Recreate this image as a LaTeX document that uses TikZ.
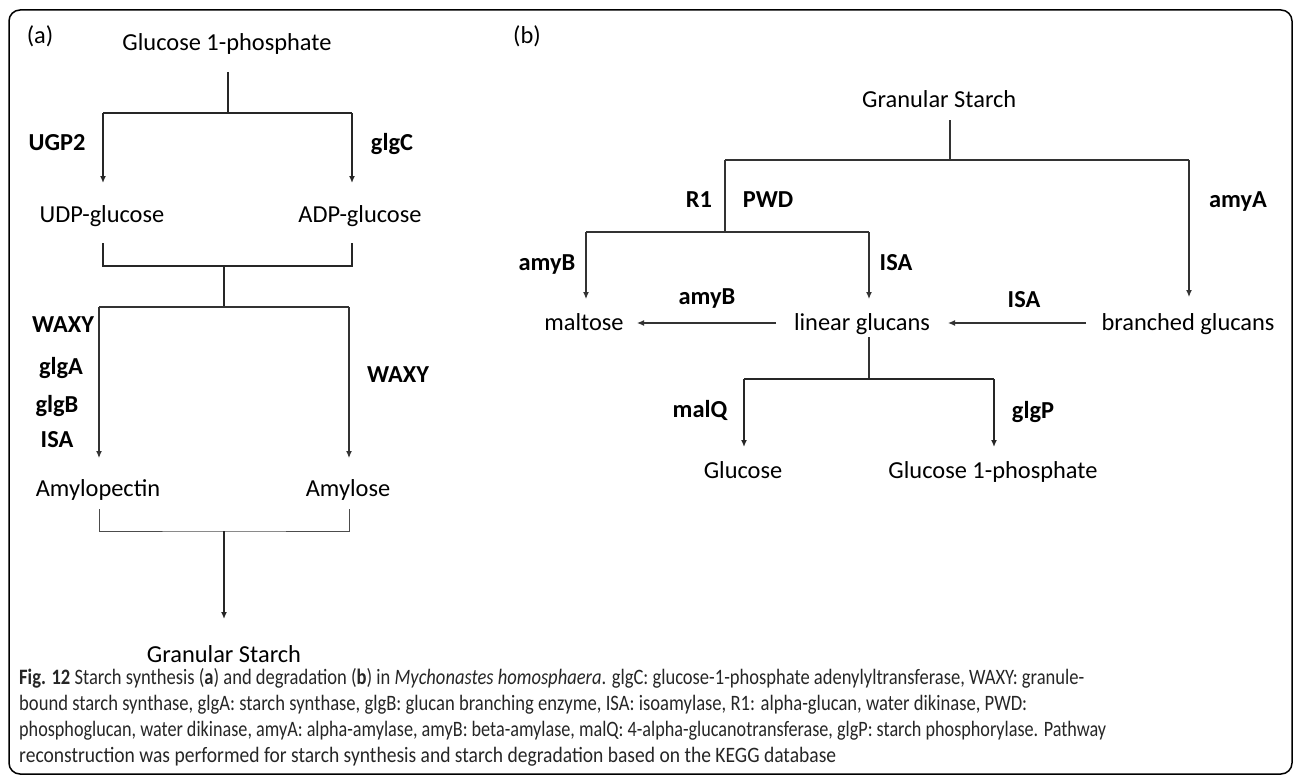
\documentclass[tikz,border=0pt]{standalone}
\usepackage{graphicx}
\usepackage{fontspec}
\setmainfont{Carlito}
\usetikzlibrary{arrows.meta}
\newcommand\capline[2]{\resizebox{#1}{\height}{#2}}
\begin{document}
\begin{tikzpicture}[x=1pt,y=-1pt,
  lbl/.style={font=\fontsize{24.4}{28}\selectfont, inner sep=0, anchor=base},
  enz/.style={font=\fontsize{24.4}{28}\selectfont\bfseries, inner sep=0, anchor=base},
  ln/.style={line width=1.8pt, draw=black!85},
  lnb/.style={line width=1.2pt, draw=black!80},
  lnthin/.style={line width=1.0pt, draw=black!70},
  arr/.style={-{Latex[length=7pt,width=6pt]}},
  capt/.style={font=\fontsize{22}{26}\selectfont, text=black!85, inner sep=0, anchor=base west}]
\useasboundingbox (0,0) rectangle (1293,776);
\draw[line width=1.5pt, rounded corners=11pt] (9,10) rectangle (1292,774);

% ---------- panel (a) ----------
\node[lbl] (pa) at (40,44) {(a)};
\node[lbl] (ag1p) at (227,51) {Glucose 1-phosphate};
\node[enz] (ugp) at (57,150) {UGP2};
\node[enz] (glgc) at (392,150) {glgC};
\node[lbl] (udp) at (102,222) {UDP-glucose};
\node[lbl] (adp) at (360,222) {ADP-glucose};
\node[enz] (waxy1) at (63,332) {WAXY};
\node[enz] (glga) at (61,374) {glgA};
\node[enz] (glgb) at (57,412) {glgB};
\node[enz] (isa1) at (57,447) {ISA};
\node[enz] (waxy2) at (398,382) {WAXY};
\node[lbl] (amyp) at (98,496) {Amylopectin};
\node[lbl] (amyl) at (348,496) {Amylose};
\node[lbl] (gsa) at (224,662) {Granular Starch};

\coordinate (a1) at (228,72);
\coordinate (a2) at (228,113);
\coordinate (a3) at (103,113);
\coordinate (a4) at (352,113);
\coordinate (a5) at (103,183);
\coordinate (a6) at (352,183);
\draw[ln] (a1) -- (a2);
\draw[ln] (a3) -- (a4);
\draw[ln,arr] (a3) -- (a5);
\draw[ln,arr] (a4) -- (a6);

\coordinate (b1) at (103,243);
\coordinate (b2) at (352,243);
\coordinate (b3) at (224,266);
\coordinate (b4) at (224,307);
\draw[ln] (b1) |- (b3) -| (b2);
\draw[ln] (b3) -- (b4);

\coordinate (c1) at (99,307);
\coordinate (c2) at (349,307);
\coordinate (c3) at (99,458);
\coordinate (c4) at (349,458);
\draw[lnb] (c1) -- (c2);
\draw[lnb,arr] (c1) -- (c3);
\draw[lnb,arr] (c2) -- (c4);

\coordinate (d1) at (99,509);
\coordinate (d2) at (349,509);
\coordinate (d3) at (224,531);
\coordinate (d4) at (224,619);
\draw[lnthin] (d1) |- (d3) -| (d2);
\draw[ln,arr] (d3) -- (d4);

% ---------- panel (b) ----------
\node[lbl] (pb) at (527,44) {(b)};
\node[lbl,anchor=base west] (gsb) at (862,107) {Granular Starch};
\node[enz] (r1) at (699,207) {R1};
\node[enz] (pwd) at (768,207) {PWD};
\node[enz] (amya) at (1238,207) {amyA};
\node[enz] (amyb1) at (547,270) {amyB};
\node[enz] (isa2) at (896,270) {ISA};
\node[enz] (amyb2) at (707,304) {amyB};
\node[enz] (isa3) at (1024,307) {ISA};
\node[lbl] (malt) at (584,330) {maltose};
\node[lbl] (lin) at (862,330) {linear glucans};
\node[lbl] (bra) at (1188,330) {branched glucans};
\node[enz] (malq) at (700,417) {malQ};
\node[enz] (glgp) at (1033,418) {glgP};
\node[lbl] (glc) at (743,478) {Glucose};
\node[lbl] (bg1p) at (993,478) {Glucose 1-phosphate};

\coordinate (e1) at (950,120);
\coordinate (e2) at (950,160);
\coordinate (e3) at (725,160);
\coordinate (e4) at (1189,160);
\coordinate (e5) at (1189,297);
\draw[lnb] (e1) -- (e2);
\draw[lnb] (e3) -- (e4);
\draw[lnb,arr] (e4) -- (e5);

\coordinate (f1) at (725,232);
\coordinate (f2) at (586,232);
\coordinate (f3) at (869,232);
\coordinate (f4) at (586,299);
\coordinate (f5) at (869,299);
\draw[lnb] (e3) -- (f1);
\draw[lnb] (f2) -- (f3);
\draw[lnb,arr] (f2) -- (f4);
\draw[lnb,arr] (f3) -- (f5);

\coordinate (g1) at (776,323);
\coordinate (g2) at (637,323);
\coordinate (g3) at (1086,323);
\coordinate (g4) at (948,323);
\draw[lnb,arr] (g1) -- (g2);
\draw[lnb,arr] (g3) -- (g4);

\coordinate (h1) at (869,337);
\coordinate (h2) at (869,379);
\coordinate (h3) at (744,379);
\coordinate (h4) at (994,379);
\coordinate (h5) at (744,447);
\coordinate (h6) at (994,447);
\draw[lnb] (h1) -- (h2);
\draw[ln] (h3) -- (h4);
\draw[ln,arr] (h3) -- (h5);
\draw[ln,arr] (h4) -- (h6);

% ---------- caption ----------
\node[capt] (cap1) at (19,684) {\capline{1065pt}{\textbf{Fig. 12} Starch synthesis (\textbf{a}) and degradation (\textbf{b}) in \textit{Mychonastes homosphaera}. glgC: glucose-1-phosphate adenylyltransferase, WAXY: granule-}};
\node[capt] (cap2) at (19,710) {\capline{1008pt}{bound starch synthase, glgA: starch synthase, glgB: glucan branching enzyme, ISA: isoamylase, R1: alpha-glucan, water dikinase, PWD:}};
\node[capt] (cap3) at (19,736) {\capline{1087pt}{phosphoglucan, water dikinase, amyA: alpha-amylase, amyB: beta-amylase, malQ: 4-alpha-glucanotransferase, glgP: starch phosphorylase. Pathway}};
\node[capt] (cap4) at (19,762) {\capline{817pt}{reconstruction was performed for starch synthesis and starch degradation based on the KEGG database}};
\end{tikzpicture}
\end{document}
